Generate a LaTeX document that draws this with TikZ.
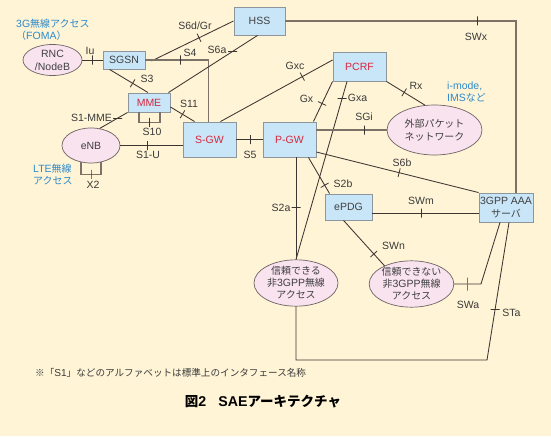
\documentclass[tikz,border=0pt]{standalone}
\usepackage{fontspec}
\setmainfont{Liberation Sans}
\newfontfamily\jp{Noto Sans CJK JP}[Scale=0.95]
\usetikzlibrary{calc,shapes.geometric}
\definecolor{bg}{HTML}{FFF4D6}
\definecolor{boxfill}{HTML}{C9E6F8}
\definecolor{boxline}{HTML}{8C969C}
\definecolor{ellfill}{HTML}{F9E3EE}
\definecolor{ellline}{HTML}{6E6464}
\definecolor{linec}{HTML}{3C3532}
\definecolor{linecb}{HTML}{7C7268}
\definecolor{labc}{HTML}{3A3A3A}
\definecolor{redc}{HTML}{D7263D}
\definecolor{bluec}{HTML}{2C8ACB}
\definecolor{boxtext}{HTML}{404040}
\tikzset{
  box/.style={draw=boxline, fill=boxfill, line width=0.9pt, inner sep=0pt, text=boxtext,
    font=\fontsize{10.5}{13}\selectfont, align=center},
  redbox/.style={box, text=redc},
  ell/.style={ellipse, draw=ellline, fill=ellfill, line width=0.7pt, inner sep=0pt, text=boxtext,
    font=\fontsize{10.5}{13}\selectfont, align=center},
  conn/.style={draw=linec, line width=0.85pt},
  connb/.style={draw=linecb, line width=1.1pt},
  tick/.style={sloped, draw=linec, line width=0.8pt, inner sep=0pt, minimum width=0pt, minimum height=9pt},
  vtk/.style={draw=linec, line width=0.8pt, inner sep=0pt, minimum width=0pt, minimum height=9pt},
  htk/.style={draw=linec, line width=0.8pt, inner sep=0pt, minimum width=9pt, minimum height=0pt},
  lbl/.style={text=labc, inner sep=0pt, font=\fontsize{10.5}{12}\selectfont},
  bluetext/.style={text=bluec, inner sep=0pt, align=left, font=\fontsize{10.5}{12}\selectfont}
}
\begin{document}
\begin{tikzpicture}[x=1pt,y=-1pt]
\fill[bg] (0,0) rectangle (551,436);
\useasboundingbox (0,0) rectangle (551,436);

% nodes
\node[box, minimum width=51pt, minimum height=28pt] (hss) at (259.5,21) {HSS};
\node[box, minimum width=42pt, minimum height=18pt] (sgsn) at (124,60) {SGSN};
\node[ell, minimum width=59pt, minimum height=31pt] (rnc) at (52.5,60) {RNC\\/NodeB};
\node[redbox, minimum width=42pt, minimum height=19pt] (mme) at (149,102.5) {MME};
\node[ell, minimum width=58pt, minimum height=35pt] (enb) at (91,145.5) {eNB};
\node[redbox, minimum width=53pt, minimum height=35pt] (sgw) at (209.5,139.5) {S-GW};
\node[redbox, minimum width=53pt, minimum height=35pt] (pgw) at (289.5,139.5) {P-GW};
\node[redbox, minimum width=53pt, minimum height=29pt] (pcrf) at (359.5,66.5) {PCRF};
\node[ell, minimum width=95pt, minimum height=50pt] (ext) at (434.5,130) {{\jp 外部パケット}\\{\jp ネットワーク}};
\node[box, minimum width=47pt, minimum height=26pt] (epdg) at (348.5,207) {ePDG};
\node[box, minimum width=54pt, minimum height=29pt] (aaa) at (506,207.5) {3GPP AAA\\{\jp サーバ}};
\node[ell, minimum width=84pt, minimum height=42pt, font=\fontsize{10.5}{12}\selectfont] (tr) at (296,283) {{\jp 信頼できる}\\{\jp 非}3GPP{\jp 無線}\\{\jp アクセス}};
\node[ell, minimum width=83pt, minimum height=44pt, font=\fontsize{10.5}{12}\selectfont] (untr) at (411.5,284) {{\jp 信頼できない}\\{\jp 非}3GPP{\jp 無線}\\{\jp アクセス}};

\coordinate (swac) at (481,284);
\coordinate (stac) at (487,360);

% connectors
\draw[conn] (rnc.east) -- node[vtk]{} (sgsn.west);
\draw[conn] ($(sgsn.east)+(6,1)$) -- node[tick,pos=0.58]{} (hss.west);
\draw[connb] (sgsn.east) -| node[vtk,pos=0.28]{} ($(sgw.north)+(-1,0)$);
\draw[conn] ($(mme.north east)+(-2,0)$) -- node[htk,pos=0.72]{} ($(hss.south)+(-2,0)$);
\draw[conn] ($(sgsn.south west)+(7,0)$) -- node[tick,pos=0.6]{} ($(mme.north)+(-1,0)$);
\draw[conn] ($(mme.east)+(0,4.5)$) -- node[tick,pos=0.5]{} ($(sgw.north west)+(12,0)$);
\draw[conn] (enb.63) -- node[htk,pos=0.64]{} (mme.south west);
\draw[connb] ($(mme.south)+(-10,0)$) -- ++(0,10) -- node[vtk]{} ++(21,0) -- ++(0,-10);
\draw[conn] (enb.east) -- node[vtk,pos=0.44]{} (enb.east -| sgw.west);
\draw[connb] ($(enb.south)+(-10,-1)$) -- ++(0,12) -- node[vtk]{} ++(20,0) -- ++(0,-12);
\draw[conn] (sgw.east) -- node[vtk,pos=0.55]{} (pgw.west);
\draw[conn] ($(sgw.north east)+(-16,0)$) -- node[tick,pos=0.73]{} ($(pcrf.west)+(0,-6.5)$);
\draw[conn] ($(pgw.north east)+(-3,0)$) -- node[tick,pos=0.45]{} (pcrf.south west);
\draw[conn] ($(pcrf.south)+(-12.5,0)$) -- node[htk,pos=0.094]{} (tr.north);
\draw[conn] (pgw.south -| tr.north) -- node[htk,pos=0.49]{} (tr.north);
\draw[connb] (ext.west -| pgw.east) -- node[vtk,pos=0.68]{} (ext.west);
\draw[conn] (pcrf.south east) -- node[tick,pos=0.46]{} (ext.111);
\draw[connb] (hss.east) -| node[vtk,pos=0.416]{} ($(aaa.north)+(10,0)$);
\draw[conn] ($(pgw.east)+(0,12.5)$) -- node[tick,pos=0.51]{} (aaa.north west);
\draw[conn] ($(pgw.south east)+(-8,0)$) -- node[tick,pos=0.77]{} ($(epdg.north west)+(5,0)$);
\draw[conn] ($(epdg.east)+(0,6)$) -- node[vtk,pos=0.46]{} ($(aaa.west)+(0,5.5)$);
\draw[conn] ($(epdg.south west)+(19,0)$) -- node[tick,pos=0.74]{} (untr.146);
\draw[conn] (untr.east) -- node[vtk, minimum height=13pt, line width=1.2pt, draw=linecb]{} (swac) -- ($(aaa.south)+(-6,0)$);
\draw[conn] (tr.south) |- (stac) -- node[htk,pos=0.37]{} ($(aaa.south)+(3,0)$);

% connector labels
\node[lbl] (lIu) at (90,51) {Iu};
\node[lbl] (lS6d) at (195,26) {S6d/Gr};
\node[lbl] (lS4) at (190,53) {S4};
\node[lbl] (lS6a) at (217,50) {S6a};
\node[lbl] (lS3) at (147,79) {S3};
\node[lbl] (lS11) at (189,104) {S11};
\node[lbl] (lS1MME) at (91.5,118) {S1-MME};
\node[lbl] (lS10) at (152,132) {S10};
\node[lbl] (lS1U) at (148,155) {S1-U};
\node[lbl] (lX2) at (93,185) {X2};
\node[lbl] (lS5) at (250,155) {S5};
\node[lbl] (lGxc) at (295,66) {Gxc};
\node[lbl] (lGx) at (306.5,99) {Gx};
\node[lbl] (lGxa) at (357.5,98) {Gxa};
\node[lbl] (lSGi) at (364,117) {SGi};
\node[lbl] (lRx) at (416,86) {Rx};
\node[lbl] (lSWx) at (476,37) {SWx};
\node[lbl] (lS6b) at (402,163) {S6b};
\node[lbl] (lS2b) at (343,184) {S2b};
\node[lbl] (lS2a) at (281,208) {S2a};
\node[lbl] (lSWm) at (421,201) {SWm};
\node[lbl] (lSWn) at (393.5,246) {SWn};
\node[lbl] (lSWa) at (468,305) {SWa};
\node[lbl] (lSTa) at (511.5,313) {STa};

% free texts
\node[bluetext, anchor=north west] (t3g) at (16,19) {3G{\jp 無線アクセス}\\{\jp （}FOMA{\jp ）}};
\node[bluetext, anchor=north west] (tlte) at (33,164) {LTE{\jp 無線}\\{\jp アクセス}};
\node[bluetext, anchor=north west] (timode) at (447,82) {i-mode,\\IMS{\jp など}};
\node[text=labc, inner sep=0pt, anchor=west, font=\fontsize{10.1}{11}\selectfont] (note) at (35,373)
  {{\jp ※「}S1{\jp 」などのアルファベットは標準上のインタフェース名称}};
\node[text=black, inner sep=0pt, font=\fontsize{14.2}{16}\selectfont\bfseries] (title) at (263,402)
  {{\jp 図}2\hspace{12pt}SAE{\jp アーキテクチャ}};
\end{tikzpicture}
\end{document}
